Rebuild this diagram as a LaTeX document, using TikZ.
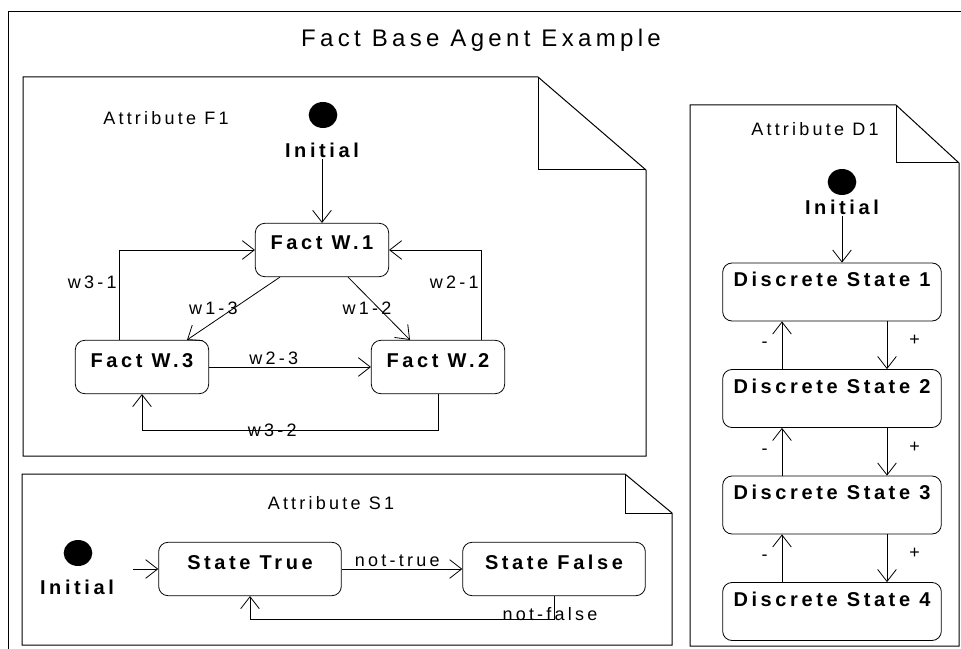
\documentclass[tikz,border=0pt]{standalone}
\usepackage{fontspec}
\setmainfont{Liberation Sans}
\newfontfamily\umlfont[LetterSpace=18]{Liberation Sans}
\usetikzlibrary{arrows.meta, positioning, calc, shapes.geometric}

\begin{document}
\begin{tikzpicture}[
    x=0.75pt, y=-0.75pt,
    >={Straight Barb[length=9pt, width=14pt]},
    line width=0.6pt,
    frame/.style={line width=0.75pt},
    state/.style={draw, rounded corners=7pt, font=\umlfont\bfseries\fontsize{15pt}{18pt}\selectfont, text height=11pt, text depth=11pt, inner sep=2pt},
    fstate/.style={state, minimum width=100pt, minimum height=40pt},
    sstate/.style={state, minimum width=137pt, minimum height=40pt},
    dstate/.style={state, minimum width=164pt, minimum height=43.5pt, text depth=19pt},
    initdot/.style={ellipse, fill=black, minimum width=21.5pt, minimum height=19.5pt, inner sep=0pt},
    initlbl/.style={font=\umlfont\bfseries\fontsize{15pt}{18pt}\selectfont, inner sep=1pt},
    headlbl/.style={font=\umlfont\fontsize{18pt}{22pt}\selectfont},
    lbl/.style={font=\umlfont\fontsize{13.5pt}{16pt}\selectfont, inner sep=1.5pt},
    arr/.style={->},
]
\useasboundingbox (0,0) rectangle (961,649);
% ----- outer frame and title
\draw[frame] (961,12) -- (8,12) -- (8,649);
\node[headlbl] (title) at (481,40) {Fact Base Agent Example};
% ----- attribute F1: three facts linked by weights
\draw[frame] (23,77) -- (538,77) -- (646,170) -- (646,456) -- (23,456) -- cycle;
\draw[frame] (538,77) -- (538,170) -- (646,170);
\node[lbl] (f1name) at (166,118) {Attribute F1};
\node[initdot] (f1dot) at (323,115) {};
\node[initlbl] (f1init) at (322,150) {Initial};
\node[fstate] (w1) at (322,250) {Fact W.1};
\node[fstate] (w3) at (142,367) {Fact W.3};
\node[fstate] (w2) at (438,367) {Fact W.2};
\draw[arr] (f1init) -- (w1);
\draw[arr] ($(w3.north)+(-23,0)$) |- node[lbl, pos=0.32, left] {w3-1} (w1.west);
\draw[arr] ($(w2.north)+(43,0)$) |- node[lbl, pos=0.32, left] {w2-1} (w1.east);
\draw[arr] ($(w1.south)+(-42,0)$) -- node[lbl, left, xshift=5pt] {w1-3} ($(w3.north)+(45,0)$);
\draw[arr] ($(w1.south)+(26,0)$) -- node[lbl, xshift=-9pt] {w1-2} ($(w2.north)+(-28,0)$);
\draw[arr] (w3) -- node[lbl, above, pos=0.4] {w2-3} (w2);
\draw[arr] (w2.south) |- node[lbl, pos=0.78] {w3-2} ($(w3.south)+(0,36)$) -- (w3.south);
% ----- attribute S1: true / false
\draw[frame] (22,474) -- (625,474) -- (672,513) -- (672,645) -- (22,645) -- cycle;
\draw[frame] (625,474) -- (625,513) -- (672,513);
\node[lbl] (s1name) at (331,503) {Attribute S1};
\node[initdot] (s1dot) at (78,553) {};
\node[initlbl] (s1init) at (77,587) {Initial};
\node[sstate] (strue) at (250,569) {State True};
\node[sstate] (sfalse) at (554,569) {State False};
\coordinate (s1start) at (133,569);
\draw[arr] (s1start) -- (strue);
\draw[arr] (strue) -- node[lbl, above, pos=0.46] {not-true} (sfalse);
\draw[arr] (sfalse.south) |- node[lbl, pos=0.5, yshift=4pt, xshift=-3pt] {not-false} ($(strue.south)+(0,23)$) -- (strue.south);
% ----- attribute D1: four discrete states
\draw[frame] (690,105) -- (896,105) -- (959,163) -- (959,646) -- (690,646) -- cycle;
\draw[frame] (896,105) -- (896,163) -- (959,163);
\node[lbl] (d1name) at (815,129) {Attribute D1};
\node[initdot] (d1dot) at (842,182) {};
\node[initlbl] (d1init) at (842,207) {Initial};
\foreach \i in {1,...,4} { \node[dstate] (ds\i) at (832,{292+106.5*(\i-1)}) {Discrete State \i}; }
\draw[arr] (d1init) -- (d1init |- ds1.north);
\foreach \i/\j in {1/2,2/3,3/4} {
  \draw[arr] ($(ds\i.south)+(55,0)$) -- node[lbl, right, pos=0.4, xshift=15pt] {+} ($(ds\j.north)+(55,0)$);
  \draw[arr] ($(ds\j.north)+(-50,0)$) -- node[lbl, left, pos=0.5, xshift=-9pt] {-} ($(ds\i.south)+(-50,0)$);
}
\end{tikzpicture}
\end{document}
